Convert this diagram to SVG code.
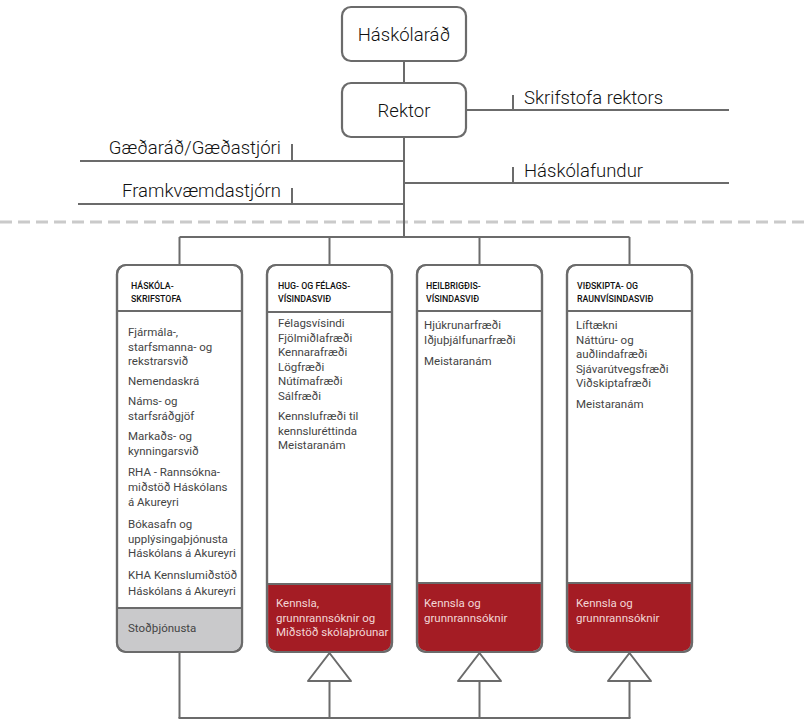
<svg xmlns="http://www.w3.org/2000/svg" width="807" height="722" viewBox="0 0 807 722">
<style>
  .ln{stroke:#6b6b6b;stroke-width:2;fill:none}
  .box{fill:#fff;stroke:#6b6b6b;stroke-width:2.2}
  .big{font-family:Roboto,"Liberation Sans",sans-serif;font-size:18.5px;font-weight:300;fill:#111}
  .hd{font-family:Roboto,"Liberation Sans",sans-serif;font-size:8.8px;font-weight:500;fill:#111}
  .bd{font-family:Roboto,"Liberation Sans",sans-serif;font-size:11.5px;fill:#444}
  .rd{font-family:Roboto,"Liberation Sans",sans-serif;font-size:11.5px;fill:#f2d6d6}
  .red{fill:#a41c24}
  .gray{fill:#c9c9cb}
  .tri{fill:#fff;stroke:#6b6b6b;stroke-width:2;stroke-linejoin:round}
</style>
<rect width="807" height="722" fill="#fff"/>
<line x1="0" y1="222" x2="807" y2="222" stroke="#cacaca" stroke-width="3" stroke-dasharray="12 6"/>
<g id="connectors">
  <line class="ln" x1="404" y1="61" x2="404" y2="83"/>
  <line class="ln" x1="404" y1="137" x2="404" y2="237"/>
  <line class="ln" x1="466" y1="110" x2="729" y2="110"/>
  <line class="ln" x1="513" y1="95" x2="513" y2="110"/>
  <line class="ln" x1="404" y1="183" x2="729" y2="183"/>
  <line class="ln" x1="513" y1="167" x2="513" y2="183"/>
  <line class="ln" x1="80" y1="161" x2="404" y2="161"/>
  <line class="ln" x1="292" y1="144" x2="292" y2="161"/>
  <line class="ln" x1="78" y1="204" x2="404" y2="204"/>
  <line class="ln" x1="292" y1="188" x2="292" y2="204"/>
  <line class="ln" x1="179.5" y1="237" x2="629.5" y2="237"/>
  <line class="ln" x1="179.5" y1="237" x2="179.5" y2="265"/>
  <line class="ln" x1="329.5" y1="237" x2="329.5" y2="265"/>
  <line class="ln" x1="479.5" y1="237" x2="479.5" y2="265"/>
  <line class="ln" x1="629.5" y1="237" x2="629.5" y2="265"/>
  <line class="ln" x1="179.5" y1="652" x2="179.5" y2="718"/>
  <line class="ln" x1="329.5" y1="681" x2="329.5" y2="718"/>
  <line class="ln" x1="479.5" y1="681" x2="479.5" y2="718"/>
  <line class="ln" x1="629.5" y1="681" x2="629.5" y2="718"/>
  <line class="ln" x1="178.5" y1="718" x2="630.5" y2="718"/>
  <polygon class="tri" points="329.5,653 351,681 308,681"/>
  <polygon class="tri" points="479.5,653 501,681 458,681"/>
  <polygon class="tri" points="629.5,653 651,681 608,681"/>
</g>
<g id="haskolarad">
  <rect class="box" x="342" y="7" width="124" height="54" rx="9"/>
  <text class="big" x="404" y="40.5" text-anchor="middle">Háskólaráð</text>
</g>
<g id="rektor">
  <rect class="box" x="342" y="83" width="124" height="54" rx="9"/>
  <text class="big" x="404" y="117" text-anchor="middle">Rektor</text>
</g>
<g id="skrifstofa-rektors"><text class="big" x="524" y="104">Skrifstofa rektors</text></g>
<g id="haskolafundur"><text class="big" x="524" y="177">Háskólafundur</text></g>
<g id="gaedarad"><text class="big" x="281" y="154" text-anchor="end">Gæðaráð/Gæðastjóri</text></g>
<g id="framkvaemdastjorn"><text class="big" x="281" y="197" text-anchor="end">Framkvæmdastjórn</text></g>

<g id="haskolaskrifstofa">
  <rect class="box" x="117" y="265" width="125" height="387" rx="9"/>
  <path class="gray" d="M118.1,608 H240.9 V643 A8,8 0 0 1 232.9,650.9 H126.1 A8,8 0 0 1 118.1,643 Z"/>
  <rect x="117" y="265" width="125" height="387" rx="9" fill="none" stroke="#6b6b6b" stroke-width="2.2"/>
  <line class="ln" x1="117" y1="311" x2="242" y2="311"/>
  <line class="ln" x1="117" y1="608" x2="242" y2="608"/>
  <text class="hd" x="131" y="289">HÁSKÓLA-</text>
  <text class="hd" x="131" y="302">SKRIFSTOFA</text>
  <text class="bd" x="128" y="336">Fjármála-,</text>
  <text class="bd" x="128" y="350.5">starfsmanna- og</text>
  <text class="bd" x="128" y="365">rekstrarsvið</text>
  <text class="bd" x="128" y="385">Nemendaskrá</text>
  <text class="bd" x="128" y="405">Náms- og</text>
  <text class="bd" x="128" y="419.5">starfsráðgjöf</text>
  <text class="bd" x="128" y="440">Markaðs- og</text>
  <text class="bd" x="128" y="454.5">kynningarsvið</text>
  <text class="bd" x="128" y="476">RHA - Rannsókna-</text>
  <text class="bd" x="128" y="491">miðstöð Háskólans</text>
  <text class="bd" x="128" y="506">á Akureyri</text>
  <text class="bd" x="128" y="528">Bókasafn og</text>
  <text class="bd" x="128" y="542.5">upplýsingaþjónusta</text>
  <text class="bd" x="128" y="557">Háskólans á Akureyri</text>
  <text class="bd" x="128" y="579">KHA Kennslumiðstöð</text>
  <text class="bd" x="128" y="595">Háskólans á Akureyri</text>
  <text class="bd" x="128" y="632">Stoðþjónusta</text>
</g>

<g id="hug-og-felagsvisindasvid">
  <rect class="box" x="267" y="265" width="125" height="387" rx="9"/>
  <path class="red" d="M268.1,584 H390.9 V643 A8,8 0 0 1 382.9,650.9 H276.1 A8,8 0 0 1 268.1,643 Z"/>
  <rect x="267" y="265" width="125" height="387" rx="9" fill="none" stroke="#6b6b6b" stroke-width="2.2"/>
  <line class="ln" x1="267" y1="312" x2="392" y2="312"/>
  <line class="ln" x1="267" y1="584" x2="392" y2="584"/>
  <text class="hd" x="278" y="289">HUG- OG FÉLAGS-</text>
  <text class="hd" x="278" y="302">VÍSINDASVIÐ</text>
  <text class="bd" x="278" y="327">Félagsvísindi</text>
  <text class="bd" x="278" y="341.5">Fjölmiðlafræði</text>
  <text class="bd" x="278" y="356">Kennarafræði</text>
  <text class="bd" x="278" y="370.5">Lögfræði</text>
  <text class="bd" x="278" y="385">Nútímafræði</text>
  <text class="bd" x="278" y="399.5">Sálfræði</text>
  <text class="bd" x="278" y="420">Kennslufræði til</text>
  <text class="bd" x="278" y="434.5">kennsluréttinda</text>
  <text class="bd" x="278" y="449">Meistaranám</text>
  <text class="rd" x="276" y="607">Kennsla,</text>
  <text class="rd" x="276" y="621.5">grunnrannsóknir og</text>
  <text class="rd" x="276" y="636">Miðstöð skólaþróunar</text>
</g>

<g id="heilbrigdisvisindasvid">
  <rect class="box" x="417" y="265" width="125" height="387" rx="9"/>
  <path class="red" d="M418.1,583 H540.9 V643 A8,8 0 0 1 532.9,650.9 H426.1 A8,8 0 0 1 418.1,643 Z"/>
  <rect x="417" y="265" width="125" height="387" rx="9" fill="none" stroke="#6b6b6b" stroke-width="2.2"/>
  <line class="ln" x1="417" y1="311" x2="542" y2="311"/>
  <line class="ln" x1="417" y1="583" x2="542" y2="583"/>
  <text class="hd" x="426" y="289">HEILBRIGÐIS-</text>
  <text class="hd" x="426" y="302">VÍSINDASVIÐ</text>
  <text class="bd" x="424" y="329">Hjúkrunarfræði</text>
  <text class="bd" x="424" y="343.5">Iðjuþjálfunarfræði</text>
  <text class="bd" x="424" y="365">Meistaranám</text>
  <text class="rd" x="424" y="607">Kennsla og</text>
  <text class="rd" x="424" y="621.5">grunnrannsóknir</text>
</g>

<g id="vidskipta-og-raunvisindasvid">
  <rect class="box" x="567" y="265" width="125" height="387" rx="9"/>
  <path class="red" d="M568.1,583 H690.9 V643 A8,8 0 0 1 682.9,650.9 H576.1 A8,8 0 0 1 568.1,643 Z"/>
  <rect x="567" y="265" width="125" height="387" rx="9" fill="none" stroke="#6b6b6b" stroke-width="2.2"/>
  <line class="ln" x1="567" y1="311" x2="692" y2="311"/>
  <line class="ln" x1="567" y1="583" x2="692" y2="583"/>
  <text class="hd" x="577" y="289">VIÐSKIPTA- OG</text>
  <text class="hd" x="577" y="302">RAUNVÍSINDASVIÐ</text>
  <text class="bd" x="576" y="329">Líftækni</text>
  <text class="bd" x="576" y="343.5">Náttúru- og</text>
  <text class="bd" x="576" y="358">auðlindafræði</text>
  <text class="bd" x="576" y="372.5">Sjávarútvegsfræði</text>
  <text class="bd" x="576" y="387">Viðskiptafræði</text>
  <text class="bd" x="576" y="408">Meistaranám</text>
  <text class="rd" x="576" y="607">Kennsla og</text>
  <text class="rd" x="576" y="621.5">grunnrannsóknir</text>
</g>
</svg>
